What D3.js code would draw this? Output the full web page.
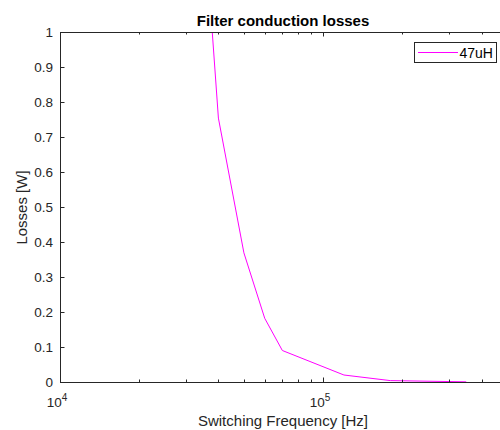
<!DOCTYPE html>
<html>
<head>
<meta charset="utf-8">
<script src="https://cdn.jsdelivr.net/npm/d3@7"></script>
<style>
body { margin: 0; background: #fff; }
text { font-family: "Liberation Sans", Arial, sans-serif; fill: #262626; }
</style>
</head>
<body>
<div id="chart"></div>
<script>
// data
var freqs = [30e3, 40e3, 50e3, 60e3, 70e3, 120e3, 180e3, 350e3];
var losses = [2.07, 0.754, 0.369, 0.182, 0.09, 0.02, 0.004, 0.0005];
var seriesName = "47uH";
var yTicks = [0, 0.1, 0.2, 0.3, 0.4, 0.5, 0.6, 0.7, 0.8, 0.9, 1];
var xMajor = [1e4, 1e5];
var xMinor = [2e4, 3e4, 4e4, 5e4, 6e4, 7e4, 8e4, 9e4, 2e5, 3e5, 4e5];

var w = 500, h = 430;
var margin = {left: 60, top: 32, right: -7, bottom: 48};

var svg = d3.select("#chart").append("svg")
	.attr("width", w).attr("height", h);

var x = d3.scaleLog().domain([1e4, 5e5]).range([margin.left, w - margin.right]);
var y = d3.scaleLinear().domain([0, 1]).range([h - margin.bottom, margin.top]);

var x0 = x.range()[0], x1 = x.range()[1];
var y0 = y.range()[0], y1 = y.range()[1];

svg.append("clipPath").attr("id", "clip")
	.append("rect").attr("x", x0).attr("y", y1).attr("width", x1 - x0).attr("height", y0 - y1);

// data line
var data = freqs.map(function(f, i) { return {f: f, v: losses[i]}; });
var line = d3.line().x(function(d) { return x(d.f); }).y(function(d) { return y(d.v); });
svg.append("path").datum(data)
	.attr("clip-path", "url(#clip)")
	.attr("d", line)
	.attr("fill", "none")
	.attr("stroke", "#ff00ff")
	.attr("stroke-width", 1);

// axes box
var axisCol = "#262626";
svg.append("rect").attr("x", x0 + 0.5).attr("y", y1 + 0.5)
	.attr("width", x1 - x0).attr("height", y0 - y1)
	.attr("fill", "none").attr("stroke", axisCol).attr("stroke-width", 1);

// x ticks, inside, top and bottom
function xTick(v, len) {
	var px = Math.round(x(v)) + 0.5;
	svg.append("line").attr("x1", px).attr("x2", px).attr("y1", y0).attr("y2", y0 - len).attr("stroke", axisCol);
	svg.append("line").attr("x1", px).attr("x2", px).attr("y1", y1).attr("y2", y1 + len).attr("stroke", axisCol);
}
xMajor.forEach(function(v) { xTick(v, 4.5); });
xMinor.forEach(function(v) { xTick(v, 2.5); });

xMajor.forEach(function(v) {
	var t = svg.append("text")
		.attr("x", x(v) - 3).attr("y", 407)
		.attr("text-anchor", "middle")
		.attr("font-size", 13.5);
	t.append("tspan").text("10");
	t.append("tspan").attr("dy", -6).attr("font-size", 10).text(Math.round(Math.log10(v)));
});

// y ticks
yTicks.forEach(function(v) {
	var py = Math.round(y(v)) + 0.5;
	svg.append("line").attr("x1", x0).attr("x2", x0 + 4.5).attr("y1", py).attr("y2", py).attr("stroke", axisCol);
	svg.append("text")
		.attr("x", 53).attr("y", y(v) + 4.5)
		.attr("text-anchor", "end")
		.attr("font-size", 13.5)
		.text(v);
});

// titles
svg.append("text")
	.attr("x", 283).attr("y", 26)
	.attr("text-anchor", "middle")
	.attr("font-size", 15).attr("font-weight", "bold")
	.style("fill", "#000")
	.text("Filter conduction losses");

svg.append("text")
	.attr("x", 283).attr("y", 426)
	.attr("text-anchor", "middle")
	.attr("font-size", 15)
	.text("Switching Frequency [Hz]");

svg.append("text")
	.attr("transform", "translate(27," + 207.5 + ") rotate(-90)")
	.attr("text-anchor", "middle")
	.attr("font-size", 15)
	.text("Losses [W]");

// legend
var lg = svg.append("g");
lg.append("rect").attr("x", 414.5).attr("y", 42.5).attr("width", 82).attr("height", 20)
	.attr("fill", "#fff").attr("stroke", axisCol).attr("stroke-width", 1);
lg.append("line").attr("x1", 418).attr("x2", 458).attr("y1", 52.5).attr("y2", 52.5)
	.attr("stroke", "#ff00ff").attr("stroke-width", 1);
lg.append("text").attr("x", 459.5).attr("y", 57.5).attr("font-size", 14).style("fill", "#000").text(seriesName);
</script>
</body>
</html>
